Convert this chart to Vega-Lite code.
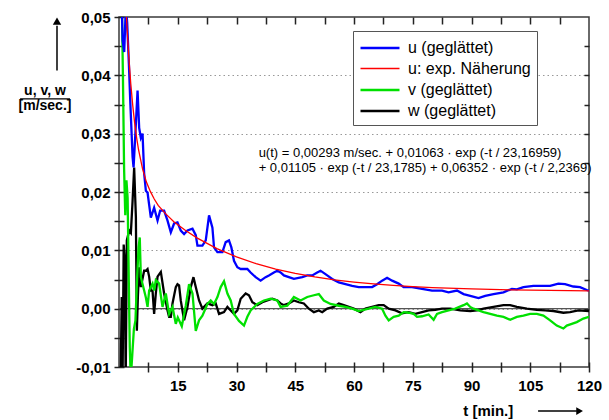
{
  "$schema": "https://vega.github.io/schema/vega-lite/v6.json",
  "width": 470,
  "height": 350,
  "autosize": {"type": "none"},
  "padding": {"left": 119, "top": 17, "right": 20, "bottom": 53},
  "background": "white",
  "config": {"view": {"stroke": "#3a3a3a", "strokeWidth": 1.5}, "font": "Liberation Sans", "axis": {"ticks": true, "tickOpacity": 1}},
  "datasets": {
    "lines": [
      {"s": "w (geglättet)", "t": 0.4, "v": -0.013},
      {"s": "w (geglättet)", "t": 0.7, "v": 0.002},
      {"s": "w (geglättet)", "t": 0.9, "v": -0.013},
      {"s": "w (geglättet)", "t": 1.2, "v": 0.011},
      {"s": "w (geglättet)", "t": 1.5, "v": 0.008},
      {"s": "w (geglättet)", "t": 1.7, "v": -0.013},
      {"s": "w (geglättet)", "t": 2.0, "v": 0.0117},
      {"s": "w (geglättet)", "t": 2.6, "v": 0.0134},
      {"s": "w (geglättet)", "t": 3.03, "v": 0.013},
      {"s": "w (geglättet)", "t": 3.47, "v": 0.0185},
      {"s": "w (geglättet)", "t": 3.87, "v": 0.0242},
      {"s": "w (geglättet)", "t": 4.31, "v": 0.0157},
      {"s": "w (geglättet)", "t": 4.56, "v": -0.0038},
      {"s": "w (geglättet)", "t": 4.82, "v": 0.002},
      {"s": "w (geglättet)", "t": 5.15, "v": 0.0071},
      {"s": "w (geglättet)", "t": 5.58, "v": 0.0037},
      {"s": "w (geglättet)", "t": 6.42, "v": 0.0065},
      {"s": "w (geglättet)", "t": 6.85, "v": 0.0065},
      {"s": "w (geglättet)", "t": 7.29, "v": 0.0068},
      {"s": "w (geglättet)", "t": 7.7, "v": 0.0055},
      {"s": "w (geglättet)", "t": 8.13, "v": 0.0031},
      {"s": "w (geglättet)", "t": 8.56, "v": 0.0031},
      {"s": "w (geglättet)", "t": 8.97, "v": -0.0009},
      {"s": "w (geglättet)", "t": 9.4, "v": 0.0026},
      {"s": "w (geglättet)", "t": 9.84, "v": 0.0055},
      {"s": "w (geglättet)", "t": 10.68, "v": 0.0063},
      {"s": "w (geglättet)", "t": 11.52, "v": 0.0026},
      {"s": "w (geglättet)", "t": 12.39, "v": -0.0003},
      {"s": "w (geglättet)", "t": 12.79, "v": -0.0014},
      {"s": "w (geglättet)", "t": 13.23, "v": -0.0014},
      {"s": "w (geglättet)", "t": 13.66, "v": 0.0009},
      {"s": "w (geglättet)", "t": 14.5, "v": 0.0037},
      {"s": "w (geglättet)", "t": 14.93, "v": 0.0042},
      {"s": "w (geglättet)", "t": 15.34, "v": 0.004},
      {"s": "w (geglättet)", "t": 15.77, "v": 0.0014},
      {"s": "w (geglättet)", "t": 16.62, "v": -0.002},
      {"s": "w (geglättet)", "t": 17.48, "v": 0.0003},
      {"s": "w (geglättet)", "t": 18.32, "v": 0.0037},
      {"s": "w (geglättet)", "t": 19.01, "v": 0.0054},
      {"s": "w (geglättet)", "t": 19.6, "v": 0.0037},
      {"s": "w (geglättet)", "t": 20.44, "v": 0.0014},
      {"s": "w (geglättet)", "t": 21.3, "v": 0.0},
      {"s": "w (geglättet)", "t": 22.58, "v": 0.0009},
      {"s": "w (geglättet)", "t": 23.85, "v": 0.0006},
      {"s": "w (geglättet)", "t": 24.69, "v": 0.0009},
      {"s": "w (geglättet)", "t": 25.54, "v": -0.0009},
      {"s": "w (geglättet)", "t": 26.81, "v": -0.0006},
      {"s": "w (geglättet)", "t": 27.68, "v": 0.0003},
      {"s": "w (geglättet)", "t": 28.52, "v": -0.0003},
      {"s": "w (geglättet)", "t": 29.36, "v": -0.0009},
      {"s": "w (geglättet)", "t": 30.22, "v": -0.0003},
      {"s": "w (geglättet)", "t": 31.07, "v": 0.0017},
      {"s": "w (geglättet)", "t": 32.34, "v": 0.0026},
      {"s": "w (geglättet)", "t": 33.18, "v": 0.0023},
      {"s": "w (geglättet)", "t": 34.05, "v": 0.0011},
      {"s": "w (geglättet)", "t": 35.32, "v": 0.0006},
      {"s": "w (geglättet)", "t": 36.6, "v": 0.0011},
      {"s": "w (geglättet)", "t": 37.87, "v": 0.0014},
      {"s": "w (geglättet)", "t": 39.14, "v": 0.0017},
      {"s": "w (geglättet)", "t": 40.42, "v": 0.0014},
      {"s": "w (geglättet)", "t": 41.26, "v": 0.0009},
      {"s": "w (geglättet)", "t": 42.1, "v": 0.0006},
      {"s": "w (geglättet)", "t": 43.37, "v": 0.0009},
      {"s": "w (geglättet)", "t": 44.65, "v": 0.0014},
      {"s": "w (geglättet)", "t": 45.92, "v": 0.0011},
      {"s": "w (geglättet)", "t": 47.2, "v": 0.0009},
      {"s": "w (geglättet)", "t": 48.47, "v": 0.0},
      {"s": "w (geglättet)", "t": 49.75, "v": -0.0006},
      {"s": "w (geglättet)", "t": 51.02, "v": -0.0003},
      {"s": "w (geglättet)", "t": 51.89, "v": -0.0006},
      {"s": "w (geglättet)", "t": 53.16, "v": 0.0},
      {"s": "w (geglättet)", "t": 54.84, "v": 0.0003},
      {"s": "w (geglättet)", "t": 56.12, "v": 0.0009},
      {"s": "w (geglättet)", "t": 57.39, "v": 0.0006},
      {"s": "w (geglättet)", "t": 58.66, "v": 0.0003},
      {"s": "w (geglättet)", "t": 59.94, "v": 0.0},
      {"s": "w (geglättet)", "t": 61.65, "v": -0.0006},
      {"s": "w (geglättet)", "t": 62.92, "v": 0.0},
      {"s": "w (geglättet)", "t": 64.63, "v": 0.0003},
      {"s": "w (geglättet)", "t": 66.31, "v": 0.0006},
      {"s": "w (geglättet)", "t": 67.58, "v": 0.0006},
      {"s": "w (geglättet)", "t": 68.86, "v": 0.0},
      {"s": "w (geglättet)", "t": 70.57, "v": -0.0003},
      {"s": "w (geglättet)", "t": 72.27, "v": -0.0008},
      {"s": "w (geglättet)", "t": 73.96, "v": -0.0006},
      {"s": "w (geglättet)", "t": 75.66, "v": -0.0009},
      {"s": "w (geglättet)", "t": 77.37, "v": -0.0006},
      {"s": "w (geglättet)", "t": 79.05, "v": -0.0003},
      {"s": "w (geglättet)", "t": 80.76, "v": -0.0002},
      {"s": "w (geglättet)", "t": 82.47, "v": 0.0},
      {"s": "w (geglättet)", "t": 84.58, "v": 0.0},
      {"s": "w (geglättet)", "t": 87.13, "v": -0.0003},
      {"s": "w (geglättet)", "t": 89.68, "v": -0.0004},
      {"s": "w (geglättet)", "t": 91.39, "v": -0.0003},
      {"s": "w (geglättet)", "t": 93.07, "v": 0.0},
      {"s": "w (geglättet)", "t": 95.62, "v": 0.0003},
      {"s": "w (geglättet)", "t": 98.17, "v": 0.0006},
      {"s": "w (geglättet)", "t": 99.87, "v": 0.0006},
      {"s": "w (geglättet)", "t": 101.58, "v": 0.0003},
      {"s": "w (geglättet)", "t": 104.13, "v": 0.0},
      {"s": "w (geglättet)", "t": 106.68, "v": -0.0002},
      {"s": "w (geglättet)", "t": 108.79, "v": -0.0003},
      {"s": "w (geglättet)", "t": 110.91, "v": -0.0004},
      {"s": "w (geglättet)", "t": 113.46, "v": -0.0007},
      {"s": "w (geglättet)", "t": 115.16, "v": -0.0006},
      {"s": "w (geglättet)", "t": 117.28, "v": -0.0003},
      {"s": "w (geglättet)", "t": 120, "v": -0.0004},

      {"s": "v (geglättet)", "t": 0.6, "v": 0.058},
      {"s": "v (geglättet)", "t": 1.0, "v": 0.04},
      {"s": "v (geglättet)", "t": 1.3, "v": 0.024},
      {"s": "v (geglättet)", "t": 1.6, "v": 0.016},
      {"s": "v (geglättet)", "t": 1.9, "v": 0.022},
      {"s": "v (geglättet)", "t": 2.2, "v": 0.019},
      {"s": "v (geglättet)", "t": 2.5, "v": 0.0048},
      {"s": "v (geglättet)", "t": 2.75, "v": -0.0066},
      {"s": "v (geglättet)", "t": 3.0, "v": -0.012},
      {"s": "v (geglättet)", "t": 3.4, "v": -0.0078},
      {"s": "v (geglättet)", "t": 3.8, "v": -0.0035},
      {"s": "v (geglättet)", "t": 4.2, "v": -0.002},
      {"s": "v (geglättet)", "t": 4.6, "v": 0.0048},
      {"s": "v (geglättet)", "t": 5.0, "v": 0.0105},
      {"s": "v (geglättet)", "t": 5.3, "v": 0.0122},
      {"s": "v (geglättet)", "t": 5.58, "v": 0.0054},
      {"s": "v (geglättet)", "t": 6.42, "v": 0.0031},
      {"s": "v (geglättet)", "t": 6.86, "v": 0.0019},
      {"s": "v (geglättet)", "t": 7.29, "v": 0.0003},
      {"s": "v (geglättet)", "t": 7.7, "v": 0.0031},
      {"s": "v (geglättet)", "t": 8.56, "v": 0.0043},
      {"s": "v (geglättet)", "t": 8.97, "v": 0.0031},
      {"s": "v (geglättet)", "t": 9.4, "v": 0.0049},
      {"s": "v (geglättet)", "t": 10.24, "v": 0.0043},
      {"s": "v (geglättet)", "t": 11.11, "v": 0.0003},
      {"s": "v (geglättet)", "t": 11.95, "v": 0.0026},
      {"s": "v (geglättet)", "t": 12.79, "v": -0.0009},
      {"s": "v (geglättet)", "t": 13.66, "v": 0.0003},
      {"s": "v (geglättet)", "t": 14.5, "v": -0.0026},
      {"s": "v (geglättet)", "t": 15.01, "v": -0.0015},
      {"s": "v (geglättet)", "t": 16.03, "v": -0.003},
      {"s": "v (geglättet)", "t": 17.05, "v": 0.0005},
      {"s": "v (geglättet)", "t": 17.89, "v": 0.0042},
      {"s": "v (geglättet)", "t": 18.76, "v": 0.0026},
      {"s": "v (geglättet)", "t": 19.6, "v": -0.0038},
      {"s": "v (geglättet)", "t": 20.44, "v": -0.002},
      {"s": "v (geglättet)", "t": 21.3, "v": -0.0012},
      {"s": "v (geglättet)", "t": 22.58, "v": 0.0008},
      {"s": "v (geglättet)", "t": 23.42, "v": 0.0014},
      {"s": "v (geglättet)", "t": 24.26, "v": 0.0008},
      {"s": "v (geglättet)", "t": 25.13, "v": 0.002},
      {"s": "v (geglättet)", "t": 25.97, "v": 0.0037},
      {"s": "v (geglättet)", "t": 26.81, "v": 0.0047},
      {"s": "v (geglättet)", "t": 27.68, "v": 0.0026},
      {"s": "v (geglättet)", "t": 28.52, "v": 0.0014},
      {"s": "v (geglättet)", "t": 29.36, "v": -0.0009},
      {"s": "v (geglättet)", "t": 30.63, "v": -0.0021},
      {"s": "v (geglättet)", "t": 31.91, "v": -0.0029},
      {"s": "v (geglättet)", "t": 32.77, "v": -0.0014},
      {"s": "v (geglättet)", "t": 33.61, "v": -0.0003},
      {"s": "v (geglättet)", "t": 35.32, "v": 0.0008},
      {"s": "v (geglättet)", "t": 37.0, "v": 0.0014},
      {"s": "v (geglättet)", "t": 38.71, "v": 0.0017},
      {"s": "v (geglättet)", "t": 40.42, "v": 0.0014},
      {"s": "v (geglättet)", "t": 41.26, "v": 0.0003},
      {"s": "v (geglättet)", "t": 42.97, "v": 0.0005},
      {"s": "v (geglättet)", "t": 44.65, "v": 0.002},
      {"s": "v (geglättet)", "t": 46.36, "v": 0.0014},
      {"s": "v (geglättet)", "t": 48.06, "v": 0.002},
      {"s": "v (geglättet)", "t": 49.75, "v": 0.0023},
      {"s": "v (geglättet)", "t": 51.02, "v": 0.0025},
      {"s": "v (geglättet)", "t": 52.29, "v": 0.0014},
      {"s": "v (geglättet)", "t": 54.0, "v": 0.0008},
      {"s": "v (geglättet)", "t": 56.12, "v": 0.0005},
      {"s": "v (geglättet)", "t": 57.82, "v": 0.0003},
      {"s": "v (geglättet)", "t": 59.53, "v": 0.0},
      {"s": "v (geglättet)", "t": 61.21, "v": -0.0004},
      {"s": "v (geglättet)", "t": 63.76, "v": 0.0},
      {"s": "v (geglättet)", "t": 65.47, "v": 0.0003},
      {"s": "v (geglättet)", "t": 67.18, "v": 0.0},
      {"s": "v (geglättet)", "t": 68.02, "v": -0.0012},
      {"s": "v (geglättet)", "t": 68.86, "v": -0.002},
      {"s": "v (geglättet)", "t": 70.13, "v": -0.0014},
      {"s": "v (geglättet)", "t": 71.41, "v": -0.0012},
      {"s": "v (geglättet)", "t": 72.68, "v": -0.0006},
      {"s": "v (geglättet)", "t": 73.96, "v": -0.0007},
      {"s": "v (geglättet)", "t": 75.23, "v": -0.0009},
      {"s": "v (geglättet)", "t": 76.09, "v": -0.0014},
      {"s": "v (geglättet)", "t": 77.37, "v": -0.0013},
      {"s": "v (geglättet)", "t": 79.05, "v": -0.001},
      {"s": "v (geglättet)", "t": 80.33, "v": -0.0019},
      {"s": "v (geglättet)", "t": 81.19, "v": -0.0009},
      {"s": "v (geglättet)", "t": 82.47, "v": -0.0006},
      {"s": "v (geglättet)", "t": 84.15, "v": -0.0003},
      {"s": "v (geglättet)", "t": 85.86, "v": 0.0},
      {"s": "v (geglättet)", "t": 87.97, "v": 0.0006},
      {"s": "v (geglättet)", "t": 88.84, "v": 0.0009},
      {"s": "v (geglättet)", "t": 89.68, "v": 0.0003},
      {"s": "v (geglättet)", "t": 90.52, "v": 0.0},
      {"s": "v (geglättet)", "t": 93.07, "v": -0.0006},
      {"s": "v (geglättet)", "t": 94.78, "v": -0.0009},
      {"s": "v (geglättet)", "t": 96.48, "v": -0.0012},
      {"s": "v (geglättet)", "t": 98.17, "v": -0.0014},
      {"s": "v (geglättet)", "t": 99.87, "v": -0.0019},
      {"s": "v (geglättet)", "t": 101.58, "v": -0.0014},
      {"s": "v (geglättet)", "t": 103.26, "v": -0.0012},
      {"s": "v (geglättet)", "t": 104.97, "v": -0.0009},
      {"s": "v (geglättet)", "t": 106.68, "v": -0.0009},
      {"s": "v (geglättet)", "t": 108.36, "v": -0.0012},
      {"s": "v (geglättet)", "t": 110.07, "v": -0.002},
      {"s": "v (geglättet)", "t": 111.77, "v": -0.0029},
      {"s": "v (geglättet)", "t": 113.46, "v": -0.0034},
      {"s": "v (geglättet)", "t": 114.32, "v": -0.0029},
      {"s": "v (geglättet)", "t": 115.6, "v": -0.0026},
      {"s": "v (geglättet)", "t": 116.87, "v": -0.0023},
      {"s": "v (geglättet)", "t": 118.55, "v": -0.0017},
      {"s": "v (geglättet)", "t": 120, "v": -0.0014},

      {"s": "u (geglättet)", "t": 0.5, "v": 0.058},
      {"s": "u (geglättet)", "t": 0.92, "v": 0.046},
      {"s": "u (geglättet)", "t": 1.33, "v": 0.044},
      {"s": "u (geglättet)", "t": 1.76, "v": 0.052},
      {"s": "u (geglättet)", "t": 2.09, "v": 0.049},
      {"s": "u (geglättet)", "t": 2.52, "v": 0.042},
      {"s": "u (geglättet)", "t": 2.91, "v": 0.035},
      {"s": "u (geglättet)", "t": 3.47, "v": 0.026},
      {"s": "u (geglättet)", "t": 3.72, "v": 0.0242},
      {"s": "u (geglättet)", "t": 4.18, "v": 0.03},
      {"s": "u (geglättet)", "t": 4.74, "v": 0.0374},
      {"s": "u (geglättet)", "t": 5.15, "v": 0.031},
      {"s": "u (geglättet)", "t": 5.58, "v": 0.0293},
      {"s": "u (geglättet)", "t": 6.01, "v": 0.03},
      {"s": "u (geglättet)", "t": 6.42, "v": 0.0232},
      {"s": "u (geglättet)", "t": 6.86, "v": 0.0202},
      {"s": "u (geglättet)", "t": 7.29, "v": 0.0199},
      {"s": "u (geglättet)", "t": 7.7, "v": 0.0178},
      {"s": "u (geglättet)", "t": 8.13, "v": 0.0156},
      {"s": "u (geglättet)", "t": 8.97, "v": 0.0173},
      {"s": "u (geglättet)", "t": 9.84, "v": 0.0151},
      {"s": "u (geglättet)", "t": 10.5, "v": 0.0168},
      {"s": "u (geglättet)", "t": 11.52, "v": 0.0168},
      {"s": "u (geglättet)", "t": 12.39, "v": 0.0151},
      {"s": "u (geglättet)", "t": 13.23, "v": 0.0131},
      {"s": "u (geglättet)", "t": 14.07, "v": 0.0146},
      {"s": "u (geglättet)", "t": 14.93, "v": 0.0148},
      {"s": "u (geglättet)", "t": 15.77, "v": 0.0134},
      {"s": "u (geglättet)", "t": 16.62, "v": 0.0128},
      {"s": "u (geglättet)", "t": 17.48, "v": 0.0134},
      {"s": "u (geglättet)", "t": 18.76, "v": 0.0137},
      {"s": "u (geglättet)", "t": 19.6, "v": 0.0126},
      {"s": "u (geglättet)", "t": 20.03, "v": 0.0108},
      {"s": "u (geglättet)", "t": 21.3, "v": 0.0108},
      {"s": "u (geglättet)", "t": 22.15, "v": 0.0117},
      {"s": "u (geglättet)", "t": 22.99, "v": 0.016},
      {"s": "u (geglättet)", "t": 23.85, "v": 0.0139},
      {"s": "u (geglättet)", "t": 24.26, "v": 0.0105},
      {"s": "u (geglättet)", "t": 25.13, "v": 0.0097},
      {"s": "u (geglättet)", "t": 26.4, "v": 0.0097},
      {"s": "u (geglättet)", "t": 27.24, "v": 0.0114},
      {"s": "u (geglättet)", "t": 28.08, "v": 0.0117},
      {"s": "u (geglättet)", "t": 28.69, "v": 0.0105},
      {"s": "u (geglättet)", "t": 29.36, "v": 0.0082},
      {"s": "u (geglättet)", "t": 30.22, "v": 0.0071},
      {"s": "u (geglättet)", "t": 31.07, "v": 0.0068},
      {"s": "u (geglättet)", "t": 32.77, "v": 0.0068},
      {"s": "u (geglättet)", "t": 33.6, "v": 0.0062},
      {"s": "u (geglättet)", "t": 34.89, "v": 0.0054},
      {"s": "u (geglättet)", "t": 36.16, "v": 0.0048},
      {"s": "u (geglättet)", "t": 37.43, "v": 0.0054},
      {"s": "u (geglättet)", "t": 38.28, "v": 0.0057},
      {"s": "u (geglättet)", "t": 39.55, "v": 0.0062},
      {"s": "u (geglättet)", "t": 40.42, "v": 0.0065},
      {"s": "u (geglättet)", "t": 41.26, "v": 0.0062},
      {"s": "u (geglättet)", "t": 42.1, "v": 0.0057},
      {"s": "u (geglättet)", "t": 43.37, "v": 0.0054},
      {"s": "u (geglättet)", "t": 44.65, "v": 0.0051},
      {"s": "u (geglättet)", "t": 46.79, "v": 0.0054},
      {"s": "u (geglättet)", "t": 48.06, "v": 0.0057},
      {"s": "u (geglättet)", "t": 49.34, "v": 0.0057},
      {"s": "u (geglättet)", "t": 50.61, "v": 0.0062},
      {"s": "u (geglättet)", "t": 51.45, "v": 0.0065},
      {"s": "u (geglättet)", "t": 51.89, "v": 0.0063},
      {"s": "u (geglättet)", "t": 53.16, "v": 0.0057},
      {"s": "u (geglättet)", "t": 54.43, "v": 0.0051},
      {"s": "u (geglättet)", "t": 56.12, "v": 0.0045},
      {"s": "u (geglättet)", "t": 57.82, "v": 0.0042},
      {"s": "u (geglättet)", "t": 59.53, "v": 0.0039},
      {"s": "u (geglättet)", "t": 61.21, "v": 0.0037},
      {"s": "u (geglättet)", "t": 62.92, "v": 0.0037},
      {"s": "u (geglättet)", "t": 64.63, "v": 0.0037},
      {"s": "u (geglättet)", "t": 65.9, "v": 0.0042},
      {"s": "u (geglättet)", "t": 67.18, "v": 0.0048},
      {"s": "u (geglättet)", "t": 68.45, "v": 0.0053},
      {"s": "u (geglättet)", "t": 69.73, "v": 0.0048},
      {"s": "u (geglättet)", "t": 71.41, "v": 0.0043},
      {"s": "u (geglättet)", "t": 72.68, "v": 0.0037},
      {"s": "u (geglättet)", "t": 74.82, "v": 0.0037},
      {"s": "u (geglättet)", "t": 77.37, "v": 0.0034},
      {"s": "u (geglättet)", "t": 79.92, "v": 0.0031},
      {"s": "u (geglättet)", "t": 82.47, "v": 0.0031},
      {"s": "u (geglättet)", "t": 84.15, "v": 0.0028},
      {"s": "u (geglättet)", "t": 86.29, "v": 0.0031},
      {"s": "u (geglättet)", "t": 87.97, "v": 0.0025},
      {"s": "u (geglättet)", "t": 89.68, "v": 0.0022},
      {"s": "u (geglättet)", "t": 91.79, "v": 0.0018},
      {"s": "u (geglättet)", "t": 93.5, "v": 0.0022},
      {"s": "u (geglättet)", "t": 95.62, "v": 0.0025},
      {"s": "u (geglättet)", "t": 98.17, "v": 0.0028},
      {"s": "u (geglättet)", "t": 100.31, "v": 0.0034},
      {"s": "u (geglättet)", "t": 101.58, "v": 0.0033},
      {"s": "u (geglättet)", "t": 103.26, "v": 0.0037},
      {"s": "u (geglättet)", "t": 105.81, "v": 0.0039},
      {"s": "u (geglättet)", "t": 108.36, "v": 0.0039},
      {"s": "u (geglättet)", "t": 110.07, "v": 0.0039},
      {"s": "u (geglättet)", "t": 112.18, "v": 0.0043},
      {"s": "u (geglättet)", "t": 113.89, "v": 0.0042},
      {"s": "u (geglättet)", "t": 116.0, "v": 0.0038},
      {"s": "u (geglättet)", "t": 117.71, "v": 0.0037},
      {"s": "u (geglättet)", "t": 119.42, "v": 0.0032},
      {"s": "u (geglättet)", "t": 120, "v": 0.0031},

      {"s": "u: exp. Näherung", "t": 1.5, "v": 0.0557},
      {"s": "u: exp. Näherung", "t": 2, "v": 0.0488},
      {"s": "u: exp. Näherung", "t": 2.5, "v": 0.0432},
      {"s": "u: exp. Näherung", "t": 3, "v": 0.0386},
      {"s": "u: exp. Näherung", "t": 3.5, "v": 0.0349},
      {"s": "u: exp. Näherung", "t": 4, "v": 0.0318},
      {"s": "u: exp. Näherung", "t": 4.5, "v": 0.0293},
      {"s": "u: exp. Näherung", "t": 5, "v": 0.0272},
      {"s": "u: exp. Näherung", "t": 6, "v": 0.024},
      {"s": "u: exp. Näherung", "t": 7, "v": 0.0217},
      {"s": "u: exp. Näherung", "t": 8, "v": 0.0201},
      {"s": "u: exp. Näherung", "t": 9, "v": 0.0188},
      {"s": "u: exp. Näherung", "t": 10, "v": 0.0177},
      {"s": "u: exp. Näherung", "t": 12, "v": 0.0162},
      {"s": "u: exp. Näherung", "t": 14, "v": 0.0149},
      {"s": "u: exp. Näherung", "t": 17, "v": 0.0134},
      {"s": "u: exp. Näherung", "t": 20, "v": 0.0121},
      {"s": "u: exp. Näherung", "t": 25, "v": 0.0103},
      {"s": "u: exp. Näherung", "t": 30, "v": 0.00887},
      {"s": "u: exp. Näherung", "t": 35, "v": 0.00772},
      {"s": "u: exp. Näherung", "t": 40, "v": 0.00679},
      {"s": "u: exp. Näherung", "t": 45, "v": 0.00604},
      {"s": "u: exp. Näherung", "t": 50, "v": 0.00544},
      {"s": "u: exp. Näherung", "t": 55, "v": 0.00495},
      {"s": "u: exp. Näherung", "t": 60, "v": 0.00456},
      {"s": "u: exp. Näherung", "t": 65, "v": 0.00424},
      {"s": "u: exp. Näherung", "t": 70, "v": 0.00399},
      {"s": "u: exp. Näherung", "t": 75, "v": 0.00378},
      {"s": "u: exp. Näherung", "t": 80, "v": 0.00362},
      {"s": "u: exp. Näherung", "t": 90, "v": 0.00338},
      {"s": "u: exp. Näherung", "t": 100, "v": 0.00322},
      {"s": "u: exp. Näherung", "t": 110, "v": 0.00312},
      {"s": "u: exp. Näherung", "t": 120, "v": 0.00305}
    ]
  },
  "resolve": {"axis": {"x": "independent", "y": "independent"}},
  "layer": [
    {
      "data": {"values": [{}]},
      "mark": {"type": "rule", "color": "#555555", "strokeWidth": 1.3},
      "encoding": {
        "y": {
          "datum": 0, "type": "quantitative",
          "scale": {"domain": [-0.01, 0.05], "nice": false, "zero": false},
          "axis": {
            "orient": "right", "title": null, "labels": false, "domain": false,
            "values": [-0.005, 0, 0.005, 0.01, 0.015, 0.02, 0.025, 0.03, 0.035, 0.04, 0.045],
            "ticks": true, "tickSize": -5, "tickColor": "#222222", "tickWidth": 1.5,
            "grid": true, "gridDash": [1.5, 3], "gridColor": "#999999", "gridWidth": 1,
            "gridOpacity": {"condition": {"test": "abs(round(datum.value*1000)) % 10 == 0", "value": 1}, "value": 0}
          }
        }
      }
    },
    {
      "mark": {"type": "line", "clip": true, "interpolate": "linear"},
      "data": {"name": "lines"},
      "encoding": {
        "x": {
          "field": "t", "type": "quantitative",
          "scale": {"domain": [0, 120], "nice": false, "zero": false},
          "axis": {
            "orient": "bottom", "title": null, "domain": false, "offset": -5,
            "values": [7.5, 15, 22.5, 30, 37.5, 45, 52.5, 60, 67.5, 75, 82.5, 90, 97.5, 105, 112.5, 120],
            "labelExpr": "datum.value % 15 == 0 ? datum.label : ''",
            "ticks": true, "tickSize": 10, "tickColor": "#222222", "tickWidth": 1.5,
            "labelFont": "Liberation Sans", "labelFontWeight": "bold", "labelFontSize": 15,
            "labelColor": "black", "labelPadding": 6, "labelOverlap": false, "labelFlush": false, "labelBound": false,
            "grid": false
          }
        },
        "y": {
          "field": "v", "type": "quantitative",
          "scale": {"domain": [-0.01, 0.05], "nice": false, "zero": false},
          "axis": {
            "orient": "left", "title": null, "domain": false, "offset": -5,
            "values": [-0.01, -0.005, 0, 0.005, 0.01, 0.015, 0.02, 0.025, 0.03, 0.035, 0.04, 0.045, 0.05],
            "labelExpr": "abs(round(datum.value*1000)) % 10 == 0 ? (datum.value < -0.0001 ? '-' : '') + replace(format(abs(datum.value), '.2f'), '.', ',') : ''",
            "ticks": true, "tickSize": 10, "tickColor": "#222222", "tickWidth": 1.5,
            "labelFont": "Liberation Sans", "labelFontWeight": "bold", "labelFontSize": 15,
            "labelColor": "black", "labelPadding": 4, "labelOverlap": false, "labelFlush": false, "labelBound": false,
            "grid": false
          }
        },
        "color": {
          "field": "s", "type": "nominal",
          "scale": {
            "domain": ["u (geglättet)", "u: exp. Näherung", "v (geglättet)", "w (geglättet)"],
            "range": ["#0000ff", "#ff0000", "#00e000", "#000000"]
          },
          "legend": {
            "orient": "none", "legendX": 234, "legendY": 14, "title": null,
            "symbolType": "M-2,0H2", "symbolSize": 380, "symbolStrokeWidth": 2, "symbolOffset": 10,
            "labelFont": "Liberation Sans", "labelFontSize": 16, "labelColor": "black",
            "labelOffset": 17, "strokeColor": "#555555", "fillColor": "white",
            "padding": 6, "rowPadding": 2, "labelLimit": 300
          }
        },
        "strokeWidth": {
          "field": "s", "type": "nominal",
          "scale": {
            "type": "ordinal",
            "domain": ["u (geglättet)", "u: exp. Näherung", "v (geglättet)", "w (geglättet)"],
            "range": [2.3, 1.3, 2.3, 2.3]
          },
          "legend": null
        },
        "order": {"field": "t", "type": "quantitative"}
      }
    },
    {
      "data": {"values": [{}]},
      "mark": {"type": "text", "align": "left", "baseline": "top", "font": "Liberation Sans", "fontSize": 13, "lineHeight": 14.7, "color": "black"},
      "encoding": {
        "text": {"value": ["u(t) = 0,00293 m/sec. + 0,01063 · exp (-t / 23,16959)", "\u00a0+ 0,01105 · exp (-t / 23,1785) + 0,06352 · exp (-t / 2,2369)"]},
        "x": {
          "datum": 35.65, "type": "quantitative",
          "scale": {"domain": [0, 120], "nice": false, "zero": false},
          "axis": {
            "orient": "top", "title": null, "labels": false, "domain": false, "grid": false,
            "values": [7.5, 15, 22.5, 30, 37.5, 45, 52.5, 60, 67.5, 75, 82.5, 90, 97.5, 105, 112.5],
            "ticks": true, "tickSize": -7, "tickColor": "#222222", "tickWidth": 1.5
          }
        },
        "y": {"datum": 0.0277, "type": "quantitative", "scale": {"domain": [-0.01, 0.05], "nice": false, "zero": false}, "axis": null}
      }
    },
    {
      "data": {"values": [{}]},
      "mark": {"type": "text", "align": "center", "baseline": "alphabetic", "font": "Liberation Sans", "fontWeight": "bold", "fontSize": 14, "color": "black"},
      "encoding": {
        "text": {"value": "u, v, w"},
        "x": {"datum": -18.9, "type": "quantitative", "scale": {"domain": [0, 120], "nice": false, "zero": false}, "axis": null},
        "y": {"datum": 0.03665, "type": "quantitative", "scale": {"domain": [-0.01, 0.05], "nice": false, "zero": false}, "axis": null}
      }
    },
    {
      "data": {"values": [{}]},
      "mark": {"type": "text", "align": "center", "baseline": "alphabetic", "font": "Liberation Sans", "fontWeight": "bold", "fontSize": 14, "color": "black"},
      "encoding": {
        "text": {"value": "[m/sec.]"},
        "x": {"datum": -18.9, "type": "quantitative", "scale": {"domain": [0, 120], "nice": false, "zero": false}, "axis": null},
        "y": {"datum": 0.0341, "type": "quantitative", "scale": {"domain": [-0.01, 0.05], "nice": false, "zero": false}, "axis": null}
      }
    },
    {
      "data": {"values": [{}]},
      "mark": {"type": "rule", "color": "black", "strokeWidth": 1.3},
      "encoding": {
        "x": {"datum": -25.25, "type": "quantitative", "scale": {"domain": [0, 120], "nice": false, "zero": false}, "axis": null},
        "x2": {"datum": -12.51},
        "y": {"datum": 0.03597, "type": "quantitative", "scale": {"domain": [-0.01, 0.05], "nice": false, "zero": false}, "axis": null}
      }
    },
    {
      "data": {"values": [{}]},
      "mark": {"type": "rule", "color": "black", "strokeWidth": 1.5},
      "encoding": {
        "x": {"datum": -15.83, "type": "quantitative", "scale": {"domain": [0, 120], "nice": false, "zero": false}, "axis": null},
        "y": {"datum": 0.04085, "type": "quantitative", "scale": {"domain": [-0.01, 0.05], "nice": false, "zero": false}, "axis": null},
        "y2": {"datum": 0.0485}
      }
    },
    {
      "data": {"values": [{}]},
      "mark": {"type": "point", "shape": "triangle-up", "filled": true, "color": "black", "size": 70, "opacity": 1},
      "encoding": {
        "x": {"datum": -15.83, "type": "quantitative", "scale": {"domain": [0, 120], "nice": false, "zero": false}, "axis": null},
        "y": {"datum": 0.0493, "type": "quantitative", "scale": {"domain": [-0.01, 0.05], "nice": false, "zero": false}, "axis": null}
      }
    },
    {
      "data": {"values": [{}]},
      "mark": {"type": "text", "align": "center", "baseline": "middle", "font": "Liberation Sans", "fontWeight": "bold", "fontSize": 15, "color": "black"},
      "encoding": {
        "text": {"value": "t [min.]"},
        "x": {"datum": 94.27, "type": "quantitative", "scale": {"domain": [0, 120], "nice": false, "zero": false}, "axis": null},
        "y": {"datum": -0.01756, "type": "quantitative", "scale": {"domain": [-0.01, 0.05], "nice": false, "zero": false}, "axis": null}
      }
    },
    {
      "data": {"values": [{}]},
      "mark": {"type": "rule", "color": "black", "strokeWidth": 1.5},
      "encoding": {
        "x": {"datum": 107.0, "type": "quantitative", "scale": {"domain": [0, 120], "nice": false, "zero": false}, "axis": null},
        "x2": {"datum": 116.9},
        "y": {"datum": -0.01756, "type": "quantitative", "scale": {"domain": [-0.01, 0.05], "nice": false, "zero": false}, "axis": null}
      }
    },
    {
      "data": {"values": [{}]},
      "mark": {"type": "point", "shape": "triangle-right", "filled": true, "color": "black", "size": 60, "opacity": 1},
      "encoding": {
        "x": {"datum": 117.6, "type": "quantitative", "scale": {"domain": [0, 120], "nice": false, "zero": false}, "axis": null},
        "y": {"datum": -0.01756, "type": "quantitative", "scale": {"domain": [-0.01, 0.05], "nice": false, "zero": false}, "axis": null}
      }
    }
  ]
}
